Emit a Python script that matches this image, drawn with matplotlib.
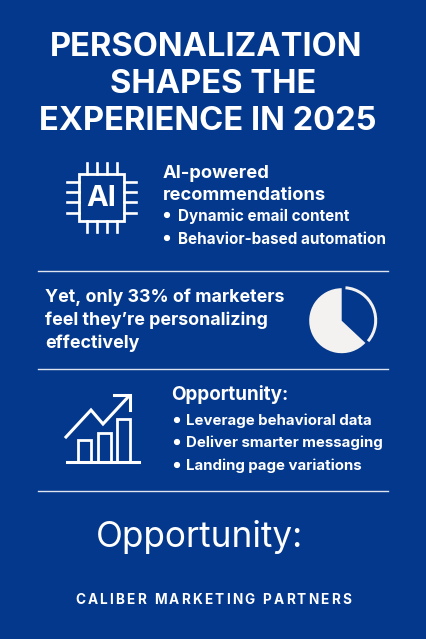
import matplotlib
matplotlib.use("Agg")
import matplotlib.pyplot as plt
from matplotlib.patches import Rectangle, Wedge, Circle

# text of the poster
title_lines = ["PERSONALIZATION", "SHAPES THE", "EXPERIENCE IN 2025"]
ai_head = ["AI-powered", "recommendations"]
ai_items = ["Dynamic email content", "Behavior-based automation"]
stat_lines = ["Yet, only 33% of marketers", "feel they\u2019re personalizing", "effectively"]
opp_head = "Opportunity:"
opp_items = ["Leverage behavioral data", "Deliver smarter messaging", "Landing page variations"]
big_label = "Opportunity:"
footer = "CALIBER MARKETING PARTNERS"

# pie icon shares (percent)
pie_filled = 63
pie_open = 37

# bar icon heights and trend line, in icon units
bar_heights = [22, 29, 43]
trend_x = [0, 25, 37, 63]
trend_y = [26, 53, 39, 67]

BG = "#04388c"
FG = "#ffffff"
PIE = "#f3f2f0"

plt.rcParams["font.family"] = ["Inter", "DejaVu Sans"]

fig = plt.figure(figsize=(4.26, 6.39), dpi=100, facecolor=BG)
ax = fig.add_axes([0, 0, 1, 1])
ax.set_xlim(0, 426)
ax.set_ylim(639, 0)
ax.axis("off")


def label(x, y, s, size, weight="bold", ha="left", **kw):
    return ax.text(x, y, s, fontsize=size, fontweight=weight, color=FG, ha=ha, va="center", **kw)


def spaced_label(x0, x1, y, s, size, weight="bold"):
    # footer is letterspaced, so place each letter to fill x0..x1
    renderer = fig.canvas.get_renderer()
    widths = []
    for ch in s:
        t = label(0, y, ch if ch != " " else "i", size, weight)
        widths.append(t.get_window_extent(renderer).width)
        t.remove()
    gap = (x1 - x0 - sum(widths)) / (len(s) - 1)
    x = x0
    for ch, w in zip(s, widths):
        if ch != " ":
            label(x, y, ch, size, weight)
        x += w + gap


# title
label(206, 47.5, title_lines[0], 23.5, ha="center")
label(213, 84.5, title_lines[1], 23.5, ha="center")
label(207.5, 121.5, title_lines[2], 23.5, ha="center")

# separators
for y in [271, 369, 491]:
    ax.plot([38, 388], [y, y], color="#dfe5f0", lw=1.0)

# chip icon
ax.add_patch(Rectangle((79, 174), 45, 47, fill=False, ec=FG, lw=2.0))
for x in [87, 97, 107, 117]:
    ax.plot([x, x], [163, 174], color=FG, lw=1.9)
    ax.plot([x, x], [221, 232], color=FG, lw=1.9)
for y in [182, 192, 202, 213]:
    ax.plot([67, 79], [y, y], color=FG, lw=1.9)
    ax.plot([124, 136], [y, y], color=FG, lw=1.9)
label(101.5, 199, "AI", 21, ha="center", weight="bold")

# AI section
label(163, 173, ai_head[0], 13.2)
label(163, 195, ai_head[1], 13.2)
for y, s in zip([215, 238], ai_items):
    ax.add_patch(Circle((167, y), 2.4, color=FG))
    label(178, y + 1, s, 10.95)

# stat section
for y, s in zip([296, 319, 342], stat_lines):
    label(45, y + 1, s, 12.85)

# pie icon (y axis is flipped, so angles run clockwise on screen)
cx, cy, r = 341.7, 320.7, 32.5
open_deg = 360 * pie_open / (pie_filled + pie_open)
ax.add_patch(Wedge((cx, cy), r, -90 + open_deg, 270, color=PIE, lw=0))
ax.add_patch(Wedge((cx + 1.5, cy - 0.5), r + 1.5, -86, -90 + open_deg - 3, width=3, color=PIE, lw=0))

# trend icon
base_y = 462
for x, h in zip([78, 98, 117], bar_heights):
    ax.add_patch(Rectangle((x, base_y - h), 13, h, fill=False, ec=FG, lw=2.0))
ax.plot([67, 139], [base_y, base_y], color=FG, lw=2.2)
ax.plot([66 + v for v in trend_x], [463 - v for v in trend_y], color=FG, lw=2.2,
        solid_joinstyle="miter")
ax.plot([114, 130, 130], [395, 395, 410], color=FG, lw=2.2, solid_joinstyle="miter")

# opportunity section
label(171.5, 395, opp_head, 13.6)
for y, s in zip([420, 442, 465], opp_items):
    ax.add_patch(Circle((177, y), 2.4, color=FG))
    label(186, y + 1, s, 10.8)

label(199.5, 537, big_label, 25.3, weight="normal", ha="center")
spaced_label(75, 351, 599.5, footer, 9.8)

fig.savefig("out.png", dpi=100, facecolor=BG)
